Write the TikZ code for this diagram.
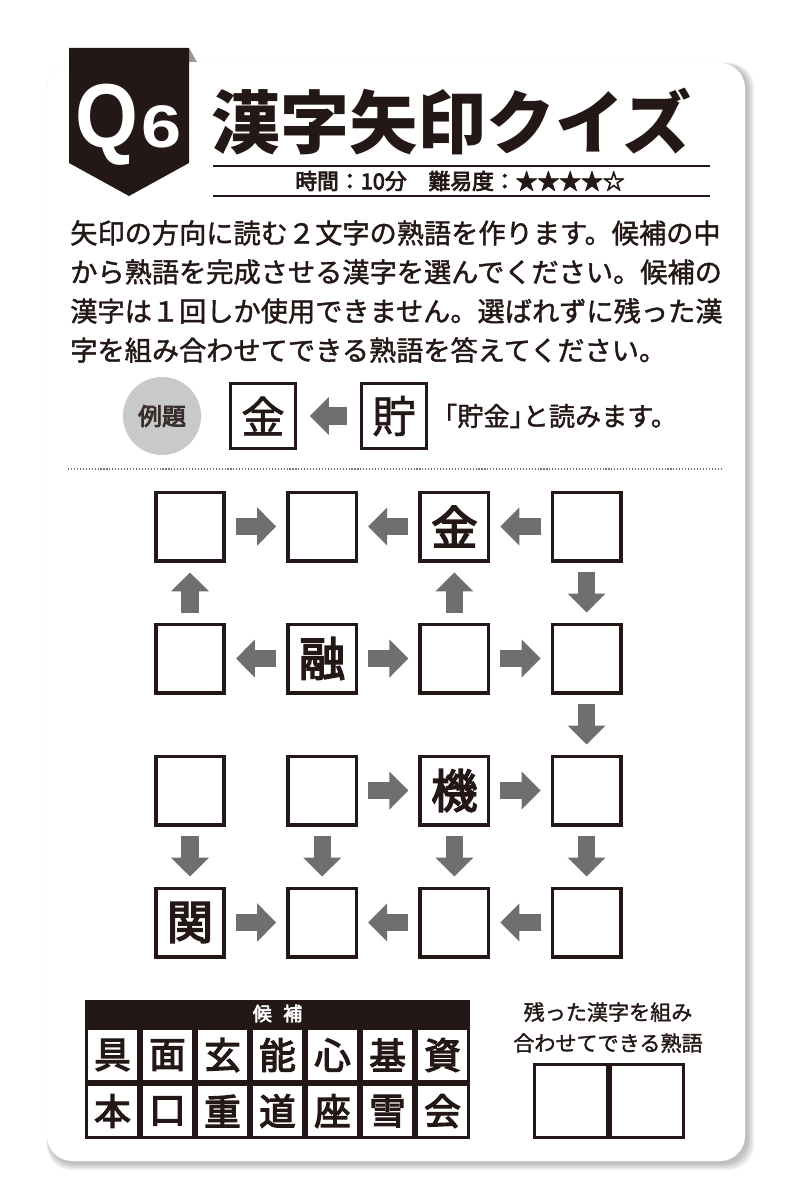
\documentclass[tikz,border=0pt]{standalone}
\usepackage{fontspec}
\setmainfont{Noto Sans CJK JP}
\newfontfamily\jpmed[FakeBold=3.5]{Noto Sans CJK JP}
\newfontfamily\jpbody[FakeBold=1.5]{Noto Sans CJK JP}
\newfontfamily\badgefont{Liberation Sans}
\usetikzlibrary{arrows.meta}
\definecolor{qzInk}{HTML}{231815}
\definecolor{qzArrow}{HTML}{6F6F6F}
\definecolor{qzDisc}{HTML}{C9C9C9}
\definecolor{qzShade}{HTML}{9A9A9A}
\newcommand{\qzsize}[1]{\fontsize{#1}{#1}\selectfont}
\newcommand{\halfw}[1]{{\addfontfeatures{CharacterWidth=AlternateHalf}#1}}

\begin{document}
\begin{tikzpicture}[
  x=0.025cm, y=-0.025cm,
  every node/.style={inner sep=0pt, text=qzInk},
  cell/.style={draw=qzInk, line width=2.5pt, minimum size=48.7pt, font=\jpmed\qzsize{33}},
  cellchar/.style={font=\jpmed\qzsize{33}},
  exbox/.style={draw=qzInk, line width=2.2pt, minimum size=46.5pt, font=\jpbody\qzsize{31}},
  candcell/.style={draw=qzInk, line width=1.8pt, minimum width=37.3pt, minimum height=38pt, font=\jpmed\qzsize{26}},
  ansbox/.style={draw=qzInk, line width=2.2pt, minimum width=51.9pt, minimum height=52pt},
  disc/.style={circle, fill=qzDisc, minimum size=55.5pt, font=\jpmed\qzsize{17}, text=qzInk!90},
  bodytext/.style={anchor=west, font=\jpbody\qzsize{19.35}},
  titlerule/.style={draw=qzInk, line width=0.9pt},
  blockarrow/.style={draw=qzArrow, line width=12.1pt, -{Triangle[width=26.3pt,length=13.5pt]},
    shorten <=7.1pt, shorten >=7.1pt}
]
  \useasboundingbox (0,0) rectangle (800,1202);
  \fill[white] (0,0) rectangle (800,1202);

  % card with soft shadow
  \foreach \k in {1,...,6}
    \fill[black, opacity=0.045, rounded corners=18pt] (49-0.4*\k,65-0.4*\k) rectangle (747+1.2*\k,1163+1.2*\k);
  \fill[white, rounded corners=17.8pt] (47,63) rectangle (745,1161);

  % badge
  \fill[qzShade] (189,48) -- (197,62) -- (189,62) -- cycle;
  \fill[qzInk] (69,48) -- (189,48) -- (189,163) -- (129,196) -- (69,163) -- cycle;
  \node[anchor=base west, text=white, font=\badgefont\fontsize{64.6}{64.6}\selectfont\bfseries] (qmark) at (75,148) {\scalebox{0.89}[1]{Q}};
  \node[anchor=base west, text=white, font=\badgefont\fontsize{42.7}{42.7}\selectfont\bfseries] (qnum) at (141,148) {\scalebox{1.2}[1]{6}};

  % title block
  \node[anchor=west, font=\qzsize{49}\bfseries] (title) at (211,122) {漢字矢印クイズ};
  \draw[titlerule] (213,166) -- (710,166);
  \node[font=\jpmed\qzsize{15.5}] (info) at (460,181) {時間：10分　難易度：★★★★☆};
  \draw[titlerule] (213,196) -- (710,196);

  \foreach \ln [count=\i] in {矢印の方向に読む２文字の熟語を作ります。候補の中,
      から熟語を完成させる漢字を選んでください。候補の,
      漢字は１回しか使用できません。選ばれずに残った漢,
      字を組み合わせてできる熟語を答えてください。}
    \node[bodytext] (body\i) at (70,{194+39*\i}) {\ln};

  % example
  \node[disc] (exlabel) at (162,416) {例題};
  \node[exbox] (exA) at (263,416) {金};
  \node[exbox] (exB) at (394,416) {貯};
  \draw[blockarrow, shorten <=9pt, shorten >=9pt] (exB) -- (exA);
  \node[anchor=west, font=\jpbody\qzsize{18.6}] (exnote) at (444,416) {\halfw{「}貯金\halfw{」}と読みます。};
  \draw[qzInk!60, line width=0.8pt, dash pattern=on 0.8pt off 1.3pt] (68,469) -- (722,469);

  % puzzle grid
  \foreach \r in {1,...,4}
    \foreach \c in {1,...,4}
      \node[cell] (c\r\c) at ({190+132.2*(\c-1)},{526.5+132*(\r-1)}) {};
  \node[cellchar] (k13) at (c13) {金};
  \node[cellchar] (k22) at (c22) {融};
  \node[cellchar] (k33) at (c33) {機};
  \node[cellchar] (k41) at (c41) {関};

  \draw[blockarrow] (c11) -- (c12);
  \draw[blockarrow] (c13) -- (c12);
  \draw[blockarrow] (c14) -- (c13);
  \draw[blockarrow] (c21) -- (c11);
  \draw[blockarrow] (c23) -- (c13);
  \draw[blockarrow] (c14) -- (c24);
  \draw[blockarrow] (c22) -- (c21);
  \draw[blockarrow] (c22) -- (c23);
  \draw[blockarrow] (c23) -- (c24);
  \draw[blockarrow] (c24) -- (c34);
  \draw[blockarrow] (c32) -- (c33);
  \draw[blockarrow] (c33) -- (c34);
  \foreach \c in {1,...,4}
    \draw[blockarrow] (c3\c) -- (c4\c);
  \draw[blockarrow] (c41) -- (c42);
  \draw[blockarrow] (c43) -- (c42);
  \draw[blockarrow] (c44) -- (c43);

  % candidates
  \node[fill=qzInk, minimum width=273.9pt, minimum height=19.2pt, text=white, font=\jpmed\qzsize{13.5}] (candhead) at (277.5,1013.5) {候\hspace{0.6em}補};
  \foreach \ch [count=\i] in {具,面,玄,能,心,基,資}
    \node[candcell] (ca\i) at ({57.5+55*\i},1055) {\ch};
  \foreach \ch [count=\i] in {本,口,重,道,座,雪,会}
    \node[candcell] (cb\i) at ({57.5+55*\i},1111) {\ch};

  % answer
  \node[font=\jpbody\qzsize{15}] (anstext1) at (608,1012) {残った漢字を組み};
  \node[font=\jpbody\qzsize{15}] (anstext2) at (608,1043) {合わせてできる熟語};
  \node[ansbox] (ans1) at (571,1101) {};
  \node[ansbox] (ans2) at (647,1101) {};
\end{tikzpicture}
\end{document}
